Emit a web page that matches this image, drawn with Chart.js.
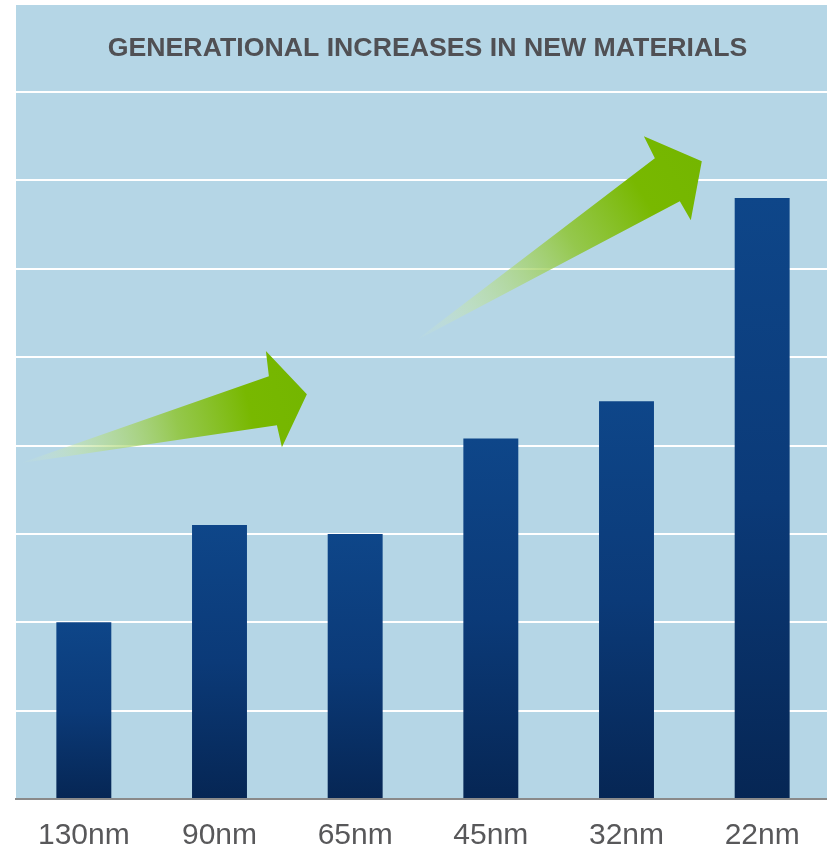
<!DOCTYPE html>
<html>
<head>
<meta charset="utf-8">
<script src="https://cdn.jsdelivr.net/npm/chart.js@4.4.1/dist/chart.umd.min.js"></script>
<style>
  html, body { margin: 0; padding: 0; background: #ffffff; overflow: hidden; }
  #wrap { position: relative; width: 832px; height: 873px; }
</style>
</head>
<body>
<div id="wrap"><canvas id="c"></canvas></div>
<script>
// ---- data ----
const categories = ["130nm", "90nm", "65nm", "45nm", "32nm", "22nm"];
const materialValues = [2.0, 3.1, 3.0, 4.08, 4.5, 6.8];
const yTicks = [0, 1, 2, 3, 4, 5, 6, 7, 8];
const chartTitle = "GENERATIONAL INCREASES IN NEW MATERIALS";

// decorative arrows, in data coordinates (category index, value)
const arrow1 = { tail: [-0.47, 3.80], tip: [1.644, 4.58], barbTop: [1.342, 5.07], innerTop: [1.364, 4.785], innerBottom: [1.423, 4.23], barbBottom: [1.46, 3.98] };
const arrow2 = { tail: [2.44, 5.18], tip: [4.555, 7.217], barbTop: [4.128, 7.5], innerTop: [4.209, 7.25], innerBottom: [4.393, 6.765], barbBottom: [4.474, 6.55] };
const arrows = [arrow1, arrow2];

const bgPlugin = {
  id: 'bgPlugin',
  beforeDraw(chart) {
    const { ctx, chartArea } = chart;
    ctx.save();
    ctx.fillStyle = '#b5d6e6';
    ctx.fillRect(chartArea.left, 5, chart.width - chartArea.left, chartArea.bottom - 5);
    ctx.fillStyle = '#505054';
    ctx.font = 'bold 26.7px "Liberation Sans", Arial, sans-serif';
    ctx.textAlign = 'center';
    ctx.textBaseline = 'middle';
    ctx.fillText(chartTitle, 427.5, 49);
    ctx.restore();
  }
};

const arrowPlugin = {
  id: 'arrowPlugin',
  beforeDatasetsDraw(chart) {
    const { ctx, scales } = chart;
    const px = p => [scales.x.getPixelForValue(p[0]), scales.y.getPixelForValue(p[1])];
    arrows.forEach(a => {
      const tail = px(a.tail), tip = px(a.tip), bt = px(a.barbTop), it = px(a.innerTop),
            ib = px(a.innerBottom), bb = px(a.barbBottom);
      const g = ctx.createLinearGradient(tail[0], tail[1], tip[0], tip[1]);
      g.addColorStop(0, 'rgba(220,240,200,0)');
      g.addColorStop(0.2, 'rgba(195,228,160,0.5)');
      g.addColorStop(0.55, 'rgba(145,198,60,0.9)');
      g.addColorStop(0.8, '#78b800');
      g.addColorStop(1, '#74b600');
      ctx.save();
      ctx.beginPath();
      ctx.moveTo(tail[0], tail[1]);
      ctx.lineTo(it[0], it[1]);
      ctx.lineTo(bt[0], bt[1]);
      ctx.lineTo(tip[0], tip[1]);
      ctx.lineTo(bb[0], bb[1]);
      ctx.lineTo(ib[0], ib[1]);
      ctx.closePath();
      ctx.fillStyle = g;
      ctx.fill();
      ctx.restore();
    });
  }
};

function barGradient(context) {
  const chart = context.chart;
  const { ctx, chartArea, scales } = chart;
  if (!chartArea) return '#0d3f7f';
  const v = context.raw;
  const top = scales.y.getPixelForValue(v);
  const bottom = scales.y.getPixelForValue(0);
  const g = ctx.createLinearGradient(0, top, 0, bottom);
  g.addColorStop(0, '#0e4689');
  g.addColorStop(0.5, '#0b3a78');
  g.addColorStop(1, '#062654');
  return g;
}

new Chart(document.getElementById('c'), {
  type: 'bar',
  data: {
    labels: categories,
    datasets: [{
      data: materialValues,
      backgroundColor: barGradient,
      borderWidth: 0,
      barPercentage: 0.405,
      categoryPercentage: 1.0
    }]
  },
  options: {
    responsive: true,
    maintainAspectRatio: false,
    animation: false,
    devicePixelRatio: 1,
    layout: { padding: { top: 92, left: 16, right: 2, bottom: 0 } },
    plugins: {
      legend: { display: false },
      tooltip: { enabled: false },
      title: { display: false }
    },
    scales: {
      x: {
        grid: { display: false, drawTicks: false },
        border: { display: true, color: '#8a8a8a', width: 2 },
        ticks: {
          color: '#58585a',
          padding: 19,
          font: { family: 'Liberation Sans, Arial, sans-serif', size: 30 }
        }
      },
      y: {
        min: yTicks[0],
        max: yTicks[yTicks.length - 1],
        afterBuildTicks(scale) { scale.ticks = yTicks.map(v => ({ value: v })); },
        ticks: { display: false },
        grid: {
          drawTicks: false,
          lineWidth: 2,
          color: ctx => ctx.tick && ctx.tick.value === 0 ? 'rgba(0,0,0,0)' : '#ffffff'
        },
        border: { display: false }
      }
    }
  },
  plugins: [bgPlugin, arrowPlugin]
});
</script>
</body>
</html>
